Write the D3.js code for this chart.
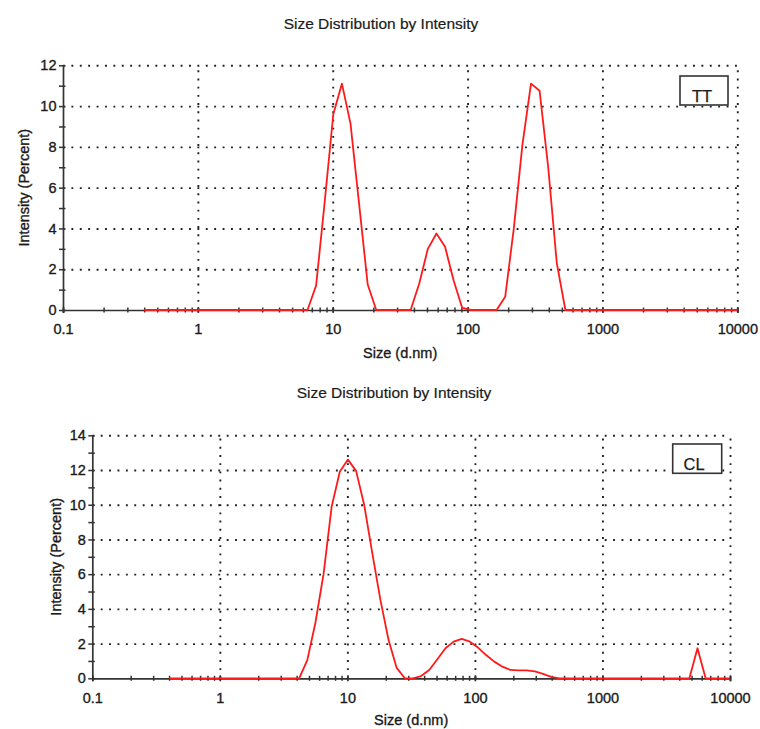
<!DOCTYPE html>
<html>
<head>
<meta charset="utf-8">
<script src="https://cdn.jsdelivr.net/npm/d3@7"></script>
<style>
  body { margin: 0; background: #fff; }
  text { font-family: "Liberation Sans", Arial, sans-serif; fill: #1a1a1a; }
  .heavy { stroke: #1a1a1a; stroke-width: 0.35px; }
</style>
</head>
<body>
<svg id="chart" width="760" height="729"></svg>
<script>
// Size classes (d.nm) of the intensity distribution
const sizeClasses = [
  0.4, 0.4632, 0.5365, 0.6213, 0.7195, 0.8332, 0.9649, 1.117, 1.294, 1.499,
  1.736, 2.010, 2.328, 2.696, 3.122, 3.615, 4.187, 4.849, 5.615, 6.503,
  7.531, 8.721, 10.10, 11.70, 13.54, 15.69, 18.17, 21.04, 24.36, 28.21,
  32.67, 37.84, 43.82, 50.75, 58.77, 68.06, 78.82, 91.28, 105.7, 122.4,
  141.8, 164.2, 190.1, 220.2, 255.0, 295.3, 342.0, 396.1, 458.7, 531.2,
  615.1, 712.4, 825.0, 955.4, 1106, 1281, 1484, 1718, 1990, 2305,
  2669, 3091, 3580, 4145, 4801, 5560, 6439, 7456, 8635, 10000
];

// Intensity (%) per size class, sample TT
const ttIntensity = [
  0, 0, 0, 0, 0, 0, 0, 0, 0, 0,
  0, 0, 0, 0, 0, 0, 0, 0, 0, 0,
  1.2, 5.3, 9.6, 11.1, 9.15, 5.2, 1.25, 0, 0, 0,
  0, 0, 1.3, 3.0, 3.75, 3.1, 1.45, 0.1, 0, 0,
  0, 0, 0.65, 4.0, 8.1, 11.1, 10.75, 7.0, 2.3, 0,
  0, 0, 0, 0, 0, 0, 0, 0, 0, 0,
  0, 0, 0, 0, 0, 0, 0, 0, 0, 0
];

// Intensity (%) per size class, sample CL
const clIntensity = [
  0, 0, 0, 0, 0, 0, 0, 0, 0, 0,
  0, 0, 0, 0, 0, 0, 0, 1.05, 3.2, 6.0,
  9.9, 11.9, 12.6, 11.95, 10.0, 7.2, 4.5, 2.2, 0.6, 0,
  0, 0.13, 0.48, 1.1, 1.73, 2.11, 2.27, 2.11, 1.77, 1.34,
  0.96, 0.67, 0.48, 0.46, 0.46, 0.4, 0.25, 0.08, 0, 0,
  0, 0, 0, 0, 0, 0, 0, 0, 0, 0,
  0, 0, 0, 0, 0, 1.73, 0, 0, 0, 0
];

const sizeTicks = [0.1, 1, 10, 100, 1000, 10000];
const sizeTickLabels = ["0.1", "1", "10", "100", "1000", "10000"];
const ttIntensityTicks = [0, 2, 4, 6, 8, 10, 12];
const clIntensityTicks = [0, 2, 4, 6, 8, 10, 12, 14];

const chartTitle = "Size Distribution by Intensity";
const xAxisTitle = "Size (d.nm)";
const yAxisTitle = "Intensity (Percent)";

const panels = [
  {
    name: "TT", values: ttIntensity, yMax: 12, yTicks: ttIntensityTicks,
    left: 63, right: 737.3, top: 65.3, bottom: 310,
    titleX: 381, titleY: 29, xTitleY: 358, yTitleX: 24,
    legend: { x: 680, y: 76, w: 48, h: 29, tx: 692, ty: 101.5 }
  },
  {
    name: "CL", values: clIntensity, yMax: 14, yTicks: clIntensityTicks,
    left: 92.3, right: 730, top: 435.3, bottom: 678.3,
    titleX: 394, titleY: 398, xTitleY: 725, yTitleX: 56,
    legend: { x: 672.7, y: 444, w: 49, h: 29.3, tx: 683.5, ty: 469.5 }
  }
];

const svg = d3.select("#chart");
svg.append("rect").attr("width", 760).attr("height", 729).attr("fill", "#fff");

panels.forEach(p => {
  const x = d3.scaleLog().domain([0.1, 10000]).range([p.left, p.right]);
  const y = d3.scaleLinear().domain([0, p.yMax]).range([p.bottom, p.top]);
  const w = p.right - p.left, h = p.bottom - p.top;
  const g = svg.append("g");

  // dotted grid
  const gy = g.append("g").attr("transform", `translate(${p.left},0)`)
    .call(d3.axisLeft(y).tickValues(p.yTicks.filter(v => v > 0)).tickSize(-w).tickFormat(""));
  gy.select(".domain").remove();
  gy.selectAll("line").attr("stroke", "#222").attr("stroke-width", 1.9)
    .attr("stroke-dasharray", "1.9 6.5");

  const gx = g.append("g").attr("transform", `translate(0,${p.bottom})`)
    .call(d3.axisBottom(x).tickValues(sizeTicks.slice(1)).tickSize(-h).tickFormat(""));
  gx.select(".domain").remove();
  gx.selectAll("line").attr("stroke", "#222").attr("stroke-width", 1.9)
    .attr("stroke-dasharray", "1.9 6.3");

  // minor ticks on the size axis (2..9 in each decade)
  const mx = g.append("g").attr("transform", `translate(0,${p.bottom})`)
    .call(d3.axisBottom(x).tickValues(x.ticks()).tickSize(2.5).tickFormat(""));
  mx.select(".domain").remove();
  mx.selectAll("line").attr("y1", -2.5).attr("stroke", "#333").attr("stroke-width", 1.5);

  // minor ticks on the intensity axis
  const my = g.append("g").attr("transform", `translate(${p.left},0)`)
    .call(d3.axisLeft(y).tickValues(d3.range(1, p.yMax, 2)).tickSize(4).tickFormat(""));
  my.select(".domain").remove();
  my.selectAll("line").attr("x1", 2.5).attr("stroke", "#333").attr("stroke-width", 1.5);

  // main axes
  const ax = g.append("g").attr("transform", `translate(0,${p.bottom})`)
    .call(d3.axisBottom(x).tickValues(sizeTicks).tickSize(3)
      .tickPadding(11).tickFormat((d, i) => sizeTickLabels[i]));
  ax.select(".domain").attr("stroke", "#333").attr("stroke-width", 1.7);
  ax.selectAll("line").attr("y1", -3).attr("stroke", "#333").attr("stroke-width", 1.5);
  ax.selectAll("text").attr("font-size", 14.5).attr("fill", "#1a1a1a").attr("class", "heavy")
    .attr("font-family", "'Liberation Sans', Arial, sans-serif");

  const ay = g.append("g").attr("transform", `translate(${p.left},0)`)
    .call(d3.axisLeft(y).tickValues(p.yTicks).tickSize(4).tickSizeOuter(0).tickPadding(2.5));
  ay.select(".domain").attr("stroke", "#333").attr("stroke-width", 1.7);
  ay.selectAll("line").attr("x1", 2.5).attr("stroke", "#333").attr("stroke-width", 1.5);
  ay.selectAll("text").attr("font-size", 14.5).attr("fill", "#1a1a1a").attr("class", "heavy")
    .attr("font-family", "'Liberation Sans', Arial, sans-serif");

  // distribution curve
  const line = d3.line().x(d => x(d[0])).y(d => y(d[1])).curve(d3.curveLinear);
  g.append("path")
    .datum(sizeClasses.map((s, i) => [s, p.values[i]]))
    .attr("d", line)
    .attr("fill", "none").attr("stroke", "#ff1a1a").attr("stroke-width", 1.8)
    .attr("stroke-linejoin", "round");

  // titles
  g.append("text").attr("x", p.titleX).attr("y", p.titleY).attr("text-anchor", "middle")
    .attr("font-size", 15.5).attr("class", "heavy").style("stroke-width", "0.2px").text(chartTitle);
  g.append("text").attr("x", (p.left + p.right) / 2).attr("y", p.xTitleY)
    .attr("text-anchor", "middle").attr("font-size", 14.5).attr("class", "heavy").text(xAxisTitle);
  g.append("text")
    .attr("transform", `translate(${p.yTitleX},${(p.top + p.bottom) / 2}) rotate(-90)`)
    .attr("text-anchor", "middle").attr("dy", "0.35em").attr("font-size", 14.5)
    .attr("class", "heavy").text(yAxisTitle);

  // sample label box
  g.append("rect").attr("x", p.legend.x).attr("y", p.legend.y)
    .attr("width", p.legend.w).attr("height", p.legend.h)
    .attr("fill", "#fff").attr("stroke", "#333").attr("stroke-width", 1.6);
  g.append("text").attr("x", p.legend.tx).attr("y", p.legend.ty)
    .attr("font-family", "Lato, 'Open Sans', sans-serif").attr("font-size", 16.5)
    .attr("class", "heavy").style("stroke-width", "0.25px")
    .text(p.name);
});
</script>
</body>
</html>
